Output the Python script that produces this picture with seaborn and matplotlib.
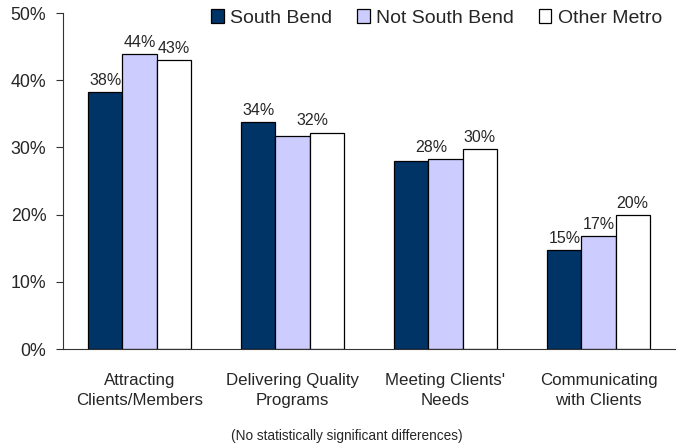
import matplotlib
matplotlib.use("Agg")
import matplotlib.pyplot as plt
import seaborn as sns
import pandas as pd
from matplotlib.patches import Patch

categories = ["Attracting\nClients/Members", "Delivering Quality\nPrograms",
              "Meeting Clients'\nNeeds", "Communicating\nwith Clients"]
series = ["South Bend", "Not South Bend", "Other Metro"]
south_bend = [38.2, 33.8, 28.0, 14.7]
not_south_bend = [43.9, 31.7, 28.3, 16.8]
other_metro = [43.0, 32.2, 29.8, 19.9]
# value labels as shown (blank where the original omits one)
labels_sb = ["38%", "34%", "", "15%"]
labels_nsb = ["44%", "", "28%", "17%"]
labels_om = ["43%", "32%", "30%", "20%"]
yticks = [0, 10, 20, 30, 40, 50]
colors = ["#003366", "#CCCCFF", "#FFFFFF"]
footnote = "(No statistically significant differences)"

rows = []
for s, vals in zip(series, [south_bend, not_south_bend, other_metro]):
    for c, v in zip(categories, vals):
        rows.append({"cat": c, "series": s, "value": v})
df = pd.DataFrame(rows)

sns.set_style("white")
plt.rcParams["font.family"] = ["Liberation Sans", "DejaVu Sans"]

fig = plt.figure(figsize=(6.83, 4.46), dpi=100)
ax = fig.add_axes([63/683, 1-349/446, 612/683, 336/446])

sns.barplot(data=df, x="cat", y="value", hue="series", order=categories,
            hue_order=series, palette=colors, saturation=1, width=0.67, gap=0,
            edgecolor="black", linewidth=0.9, ax=ax, legend=False, errorbar=None)

ax.set_ylim(0, 50)
ax.set_xlim(-0.5, len(categories) - 0.5)
ax.set_yticks(yticks)
ax.set_yticklabels([f"{t}%" for t in yticks], fontsize=12.8)
ax.set_xlabel("")
ax.set_ylabel("")
ax.set_xticks(range(len(categories)))
ax.set_xticklabels(categories, fontsize=12.2, linespacing=1.42)
ax.set_xticks([i - 0.5 for i in range(len(categories) + 1)], minor=True)
ax.tick_params(axis="x", which="major", length=0, pad=17.5)
ax.tick_params(axis="x", which="minor", length=5, width=0.8, color="#333333", direction="out")
ax.tick_params(axis="y", length=5, width=0.8, color="#333333", direction="out", pad=7, left=True)
for sp in ["top", "right"]:
    ax.spines[sp].set_visible(False)
for sp in ["left", "bottom"]:
    ax.spines[sp].set_color("#333333")
    ax.spines[sp].set_linewidth(0.8)

for ci, (cont, labs) in enumerate(zip(ax.containers, [labels_sb, labels_nsb, labels_om])):
    for bi, (bar, lab) in enumerate(zip(cont, labs)):
        if not lab:
            continue
        dx = 0
        if (ci == 2 and bi == 1) or (ci == 1 and bi == 2):
            dx = -10
        ax.annotate(lab, (bar.get_x() + bar.get_width()/2, bar.get_height()),
                    xytext=(dx, 3), textcoords="offset points",
                    ha="center", va="bottom", fontsize=11.5)

handles = [Patch(facecolor=c, edgecolor="black", linewidth=0.9) for c in colors]
fig.legend(handles, series, loc="upper left", bbox_to_anchor=(211/683, 1-9/446),
           ncol=3, frameon=False, fontsize=14, handlelength=0.65, handleheight=0.7,
           handletextpad=0.35, columnspacing=1.25, borderpad=0, borderaxespad=0)

fig.text(347/683, 1-436/446, footnote, ha="center", va="center", fontsize=9.8)

fig.savefig("out.png", dpi=100)
